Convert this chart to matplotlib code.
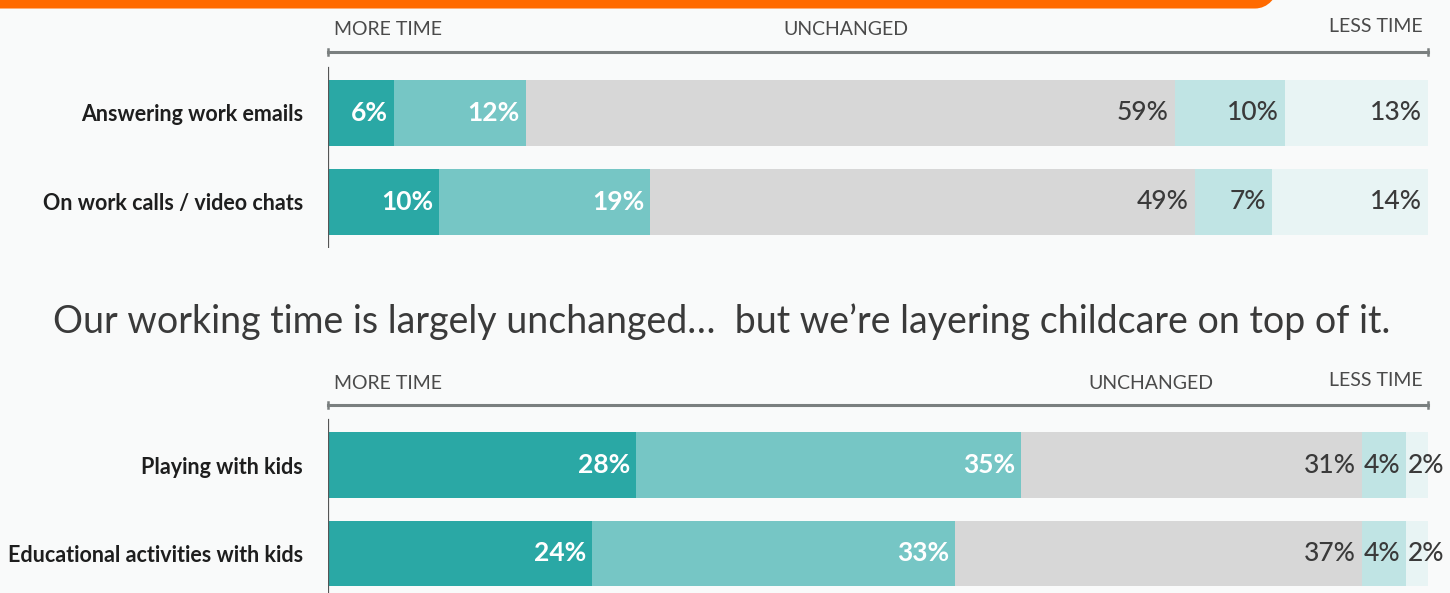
import matplotlib
matplotlib.use('Agg')
import matplotlib.pyplot as plt
from matplotlib.patches import FancyBboxPatch

# survey shares: more time (a lot / a little), unchanged, less time (a little / a lot)
work_tasks = ['Answering work emails', 'On work calls / video chats']
work_much_more = [6, 10]
work_more = [12, 19]
work_same = [59, 49]
work_less = [10, 7]
work_much_less = [13, 14]

kid_tasks = ['Playing with kids', 'Educational activities with kids']
kid_much_more = [28, 24]
kid_more = [35, 33]
kid_same = [31, 37]
kid_less = [4, 4]
kid_much_less = [2, 2]

title = 'Our working time is largely unchanged\u2026  but we\u2019re layering childcare on top of it.'

colors = ['#2aa8a5', '#76c6c5', '#d7d7d7', '#c0e4e4', '#e8f4f4']
label_colors = ['white', 'white', '#3a3a3a', '#3a3a3a', '#3a3a3a']
bg = '#f9fafa'
W, H = 1450, 593

plt.rcParams['font.family'] = ['Lato', 'DejaVu Sans']

fig = plt.figure(figsize=(W / 100, H / 100), dpi=100, facecolor=bg)


def px_axes(left, top, right, bottom):
    return fig.add_axes([left / W, 1 - bottom / H, (right - left) / W, (bottom - top) / H])


def draw_panel(ax, tasks, series, ylim, unchanged_x):
    ax.set_facecolor('none')
    ypos = list(range(len(tasks)))
    # rows are scaled to their own total so rounding gaps don't leave a short bar
    totals = [sum(col) for col in zip(*series)]
    left = [0.0] * len(tasks)
    for vals, col, tcol in zip(series, colors, label_colors):
        widths = [v * 100 / t for v, t in zip(vals, totals)]
        ax.barh(ypos, widths, left=left, height=0.74, color=col, edgecolor='none')
        for y, l, w, v in zip(ypos, left, widths, vals):
            weight = 'bold' if tcol == 'white' else 'medium'
            if v < 5:
                ax.text(l + 0.15, y, f'{v}%', ha='left', va='center', color=tcol,
                        fontsize=19, fontweight=weight)
            else:
                ax.text(l + w - 0.55, y, f'{v}%', ha='right', va='center', color=tcol,
                        fontsize=19, fontweight=weight)
        left = [a + b for a, b in zip(left, widths)]
    ax.set_xlim(0, 100)
    ax.set_ylim(*ylim)
    ax.set_yticks(ypos)
    ax.set_yticklabels(tasks, fontsize=15.5, fontweight='bold', color='#1e1e1e')
    ax.tick_params(axis='y', length=0, pad=18)
    ax.tick_params(axis='x', bottom=False, labelbottom=False)
    for s in ax.spines.values():
        s.set_visible(False)
    # scale line with end caps
    ax.plot([0, 1], [1, 1], transform=ax.transAxes, color='#7a7f7f', lw=2.2, clip_on=False)
    for xe in (0, 1):
        ax.plot([xe, xe], [0.985, 1.015], transform=ax.transAxes,
                color='#7a7f7f', lw=1.8, clip_on=False)
    ax.axvline(0, ymin=0, ymax=0.92, color='#555555', lw=1.6)
    ax.text(0.005, 1.07, 'MORE TIME', transform=ax.transAxes, ha='left', va='bottom',
            fontsize=14, color='#4a4a4a')
    ax.text(unchanged_x, 1.07, 'UNCHANGED', transform=ax.transAxes, ha='center', va='bottom',
            fontsize=14, color='#4a4a4a')
    ax.text(0.995, 1.085, 'LESS TIME', transform=ax.transAxes, ha='right', va='bottom',
            fontsize=14, color='#4a4a4a')


ax1 = px_axes(328, 52, 1428, 248)
draw_panel(ax1, work_tasks,
           [work_much_more, work_more, work_same, work_less, work_much_less],
           (1.517, -0.685), 0.471)

ax2 = px_axes(328, 405, 1428, 593)
draw_panel(ax2, kid_tasks,
           [kid_much_more, kid_more, kid_same, kid_less, kid_much_less],
           (1.45, -0.68), 0.748)

fig.text(722 / W, 1 - 322 / H, title, ha='center', va='center', fontsize=27, color='#3a3a3a')

# orange frame edge peeking in at the top
overlay = fig.add_axes([0, 0, 1, 1], zorder=5)
overlay.set_xlim(0, W)
overlay.set_ylim(H, 0)
overlay.axis('off')
overlay.add_patch(FancyBboxPatch((-60, -120), 1345, 124,
                                 boxstyle='round,pad=0,rounding_size=30',
                                 facecolor='none', edgecolor='#ff6a00', lw=6.5))

fig.savefig('out.png', dpi=100, facecolor=bg)
